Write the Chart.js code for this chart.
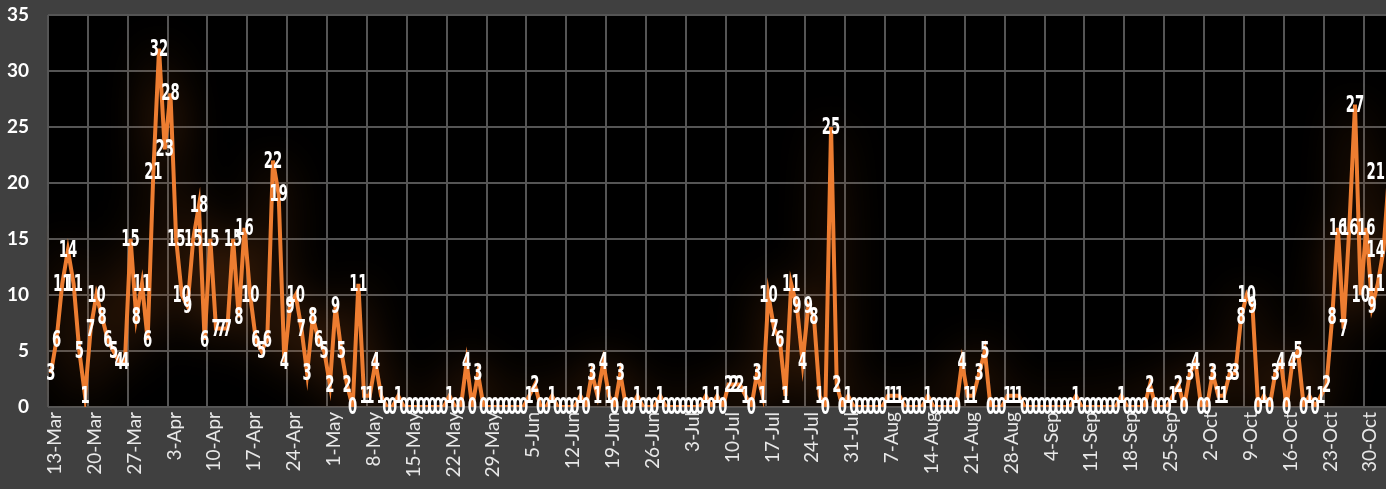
<!DOCTYPE html>
<html>
<head>
<meta charset="utf-8">
<script src="https://cdn.jsdelivr.net/npm/chart.js@4"></script>
<style>
  html, body { margin: 0; padding: 0; background: #404040; overflow: hidden; }
  #wrap { width: 1392px; height: 489px; position: relative; }
</style>
</head>
<body>
<div id="wrap"><canvas id="dailyChart"></canvas></div>
<script>
// weekly tick labels (every 7th day, starting 13-Mar)
const tickLabels = [
  '13-Mar', '20-Mar', '27-Mar', '3-Apr', '10-Apr', '17-Apr', '24-Apr', '1-May',
  '8-May', '15-May', '22-May', '29-May', '5-Jun', '12-Jun', '19-Jun', '26-Jun',
  '3-Jul', '10-Jul', '17-Jul', '24-Jul', '31-Jul', '7-Aug', '14-Aug', '21-Aug',
  '28-Aug', '4-Sep', '11-Sep', '18-Sep', '25-Sep', '2-Oct', '9-Oct', '16-Oct',
  '23-Oct', '30-Oct'
];

// daily counts, 13-Mar onwards
const dailyCounts = [
  3, 6, 11, 14, 11, 5, 1,    7, 10, 8, 6, 5, 4, 4,
  15, 8, 11, 6, 21, 32, 23,  28, 15, 10, 9, 15, 18, 6,
  15, 7, 7, 7, 15, 8, 16,    10, 6, 5, 6, 22, 19, 4,
  9, 10, 7, 3, 8, 6, 5,      2, 9, 5, 2, 0, 11, 1,
  1, 4, 1, 0, 0, 1, 0,       0, 0, 0, 0, 0, 0, 0,
  1, 0, 0, 4, 0, 3, 0,       0, 0, 0, 0, 0, 0, 0,
  1, 2, 0, 0, 1, 0, 0,       0, 0, 1, 0, 3, 1, 4,
  1, 0, 3, 0, 0, 1, 0,       0, 0, 1, 0, 0, 0, 0,
  0, 0, 0, 1, 0, 1, 0,       2, 2, 2, 1, 0, 3, 1,
  10, 7, 6, 1, 11, 9, 4,     9, 8, 1, 0, 25, 2, 0,
  1, 0, 0, 0, 0, 0, 0,       1, 1, 1, 0, 0, 0, 0,
  1, 0, 0, 0, 0, 0, 4,       1, 1, 3, 5, 0, 0, 0,
  1, 1, 1, 0, 0, 0, 0,       0, 0, 0, 0, 0, 1, 0,
  0, 0, 0, 0, 0, 0, 1,       0, 0, 0, 0, 2, 0, 0,
  0, 1, 2, 0, 3, 4, 0,       0, 3, 1, 1, 3, 3, 8,
  10, 9, 0, 1, 0, 3, 4,      0, 4, 5, 0, 1, 0, 1,
  2, 8, 16, 7, 16, 27, 10,   16, 9, 11, 14, 21
];

const dayLabels = dailyCounts.map((v, i) => (i % 7 === 0 ? (tickLabels[i / 7] || '') : ''));

const glowAndLabels = {
  id: 'glowAndLabels',
  beforeDraw(chart) {
    const { ctx, chartArea: a } = chart;
    ctx.save();
    ctx.fillStyle = '#404040';
    ctx.fillRect(0, 0, chart.width, chart.height);
    ctx.fillStyle = '#000000';
    ctx.fillRect(a.left, a.top, a.right - a.left, a.bottom - a.top);
    ctx.restore();
  },
  beforeDatasetDraw(chart) {
    const ctx = chart.ctx;
    ctx.save();
    ctx.shadowColor = 'rgba(170, 85, 25, 0.7)';
    ctx.shadowBlur = 45;
  },
  afterDatasetDraw(chart) {
    chart.ctx.restore();
  },
  afterDatasetsDraw(chart) {
    const ctx = chart.ctx;
    const meta = chart.getDatasetMeta(0);
    const sx = 0.64;
    ctx.save();
    ctx.fillStyle = '#ffffff';
    ctx.font = 'bold 23px "Liberation Sans Narrow", "DejaVu Sans Condensed", sans-serif';
    ctx.textAlign = 'center';
    ctx.textBaseline = 'middle';
    meta.data.forEach((pt, i) => {
      const txt = String(dailyCounts[i]);
      const w = ctx.measureText(txt).width * sx;
      const x = Math.min(pt.x, 1385 - w / 2);
      ctx.save();
      ctx.translate(x, pt.y + 1);
      ctx.scale(sx, 1);
      ctx.fillText(txt, 0, 0);
      ctx.restore();
    });
    ctx.restore();
  }
};

new Chart(document.getElementById('dailyChart').getContext('2d'), {
  type: 'line',
  data: {
    labels: dayLabels,
    datasets: [{
      data: dailyCounts,
      borderColor: '#ED7D31',
      borderWidth: 4,
      pointRadius: 0,
      tension: 0,
      fill: false
    }]
  },
  options: {
    responsive: true,
    maintainAspectRatio: false,
    animation: false,
    layout: { padding: { top: 15, left: 0, right: 0, bottom: 0 } },
    plugins: { legend: { display: false }, tooltip: { enabled: false } },
    scales: {
      x: {
        offset: true,
        grid: {
          offset: true,
          drawTicks: false,
          lineWidth: 2,
          color: ctx => (ctx.index % 7 === 0 ? '#555555' : 'rgba(0,0,0,0)')
        },
        border: { display: false },
        ticks: {
          autoSkip: false,
          minRotation: 90,
          maxRotation: 90,
          padding: 5,
          labelOffset: 4,
          color: '#e8e8e8',
          font: { family: 'Lato', size: 19 }
        },
        afterFit: s => {
          s.height = 82;
          s.paddingLeft = 0;
          s.paddingRight = 0;
        }
      },
      y: {
        min: 0,
        max: 35,
        ticks: {
          stepSize: 5,
          padding: 19,
          color: '#ffffff',
          font: { family: 'Lato', size: 19, weight: 'bold' }
        },
        grid: { color: '#555555', lineWidth: 2, drawTicks: false },
        border: { display: false },
        afterFit: s => {
          s.width = 48;
          s.paddingTop = 0;
          s.paddingBottom = 0;
        }
      }
    }
  },
  plugins: [glowAndLabels]
});
</script>
</body>
</html>
